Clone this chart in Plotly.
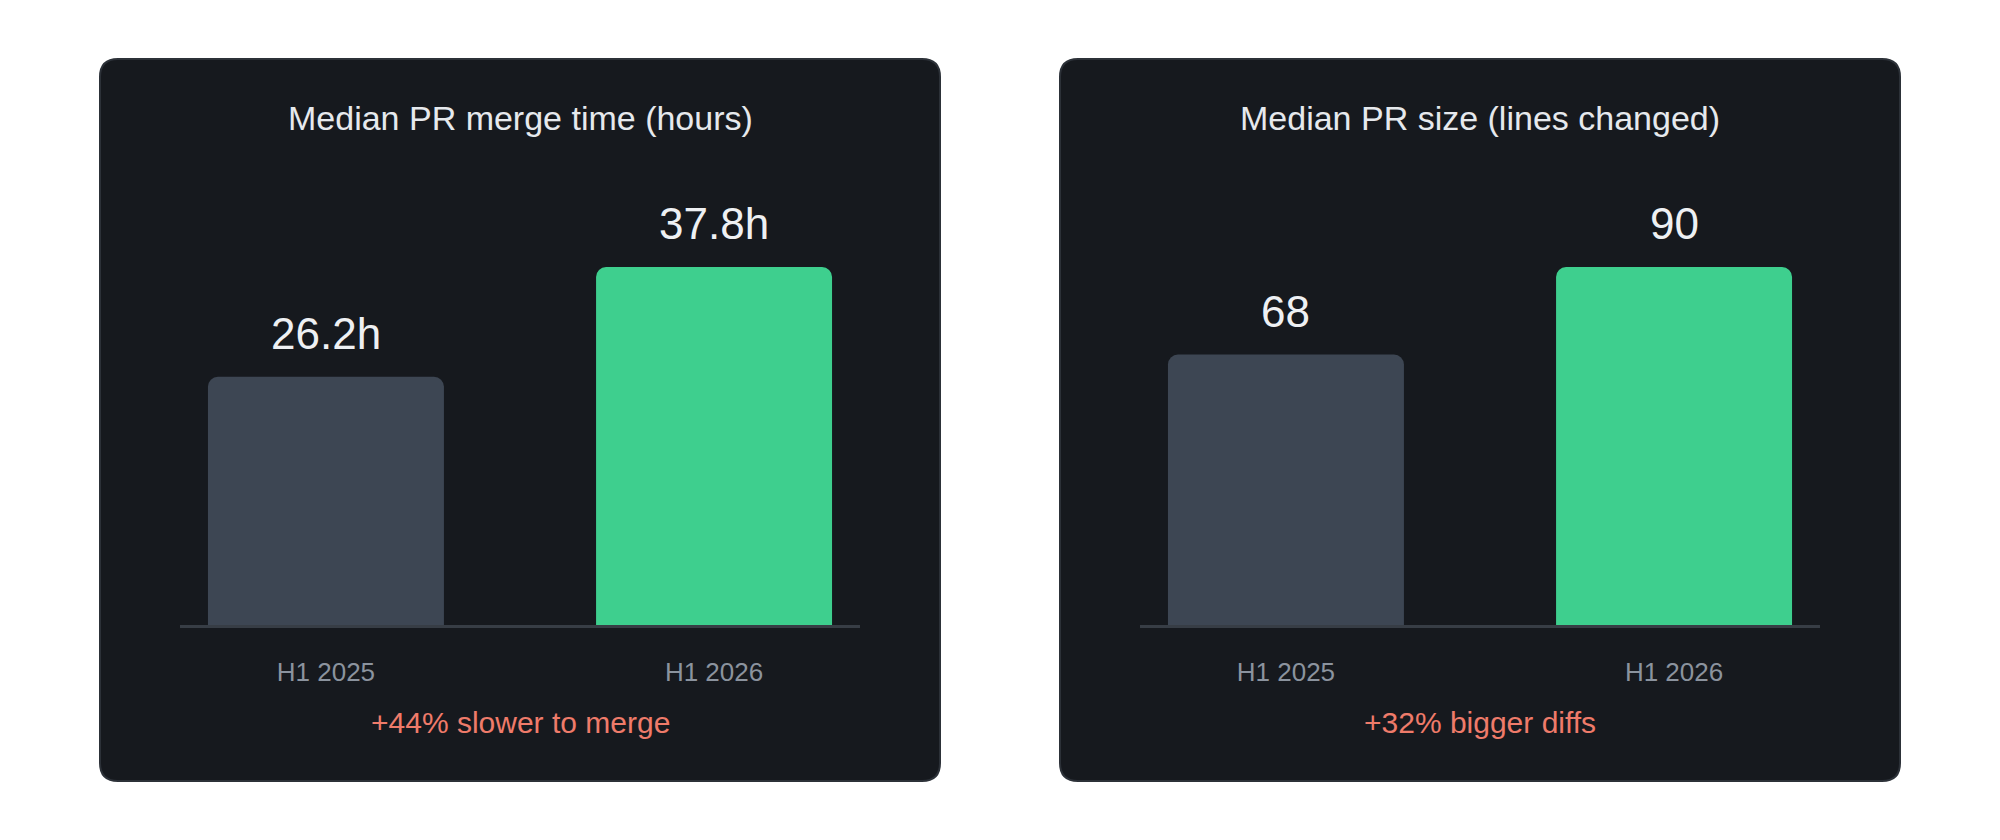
import plotly.graph_objects as go

# ---------------- data ----------------
categories = ["H1 2025", "H1 2026"]
merge_hours = [26.2, 37.8]
merge_labels = ["26.2h", "37.8h"]
pr_size = [68, 90]
pr_size_labels = ["68", "90"]
titles = ["Median PR merge time (hours)", "Median PR size (lines changed)"]
notes = ["+44% slower to merge", "+32% bigger diffs"]

# ---------------- style ----------------
W, H = 2000, 840
FONT = "Liberation Sans, Arial, Helvetica, sans-serif"
PANEL_BG = "#16191e"
PANEL_BORDER = "#2c3138"
BAR_COLORS = ["#3d4653", "#3ecf8e"]
TITLE_COLOR = "#e6e9ed"
VALUE_COLOR = "#eef0f3"
TICK_COLOR = "#8b939e"
NOTE_COLOR = "#ef7b6a"
AXIS_COLOR = "#373d45"

panels = [(100, 59, 940, 781), (1060, 59, 1900, 781)]  # x0, y0, x1, y1 (px)
axis_px = [(180, 860), (1140, 1820)]
base_px, top_px = 625, 200
bar_px_max = 358


def fx(px):
    return px / W


def fy(py):
    return 1 - py / H


def rounded_rect(x0, y0, x1, y1, r):
    pts = [
        f"M {fx(x0 + r)} {fy(y0)}",
        f"L {fx(x1 - r)} {fy(y0)}",
        f"Q {fx(x1)} {fy(y0)} {fx(x1)} {fy(y0 + r)}",
        f"L {fx(x1)} {fy(y1 - r)}",
        f"Q {fx(x1)} {fy(y1)} {fx(x1 - r)} {fy(y1)}",
        f"L {fx(x0 + r)} {fy(y1)}",
        f"Q {fx(x0)} {fy(y1)} {fx(x0)} {fy(y1 - r)}",
        f"L {fx(x0)} {fy(y0 + r)}",
        f"Q {fx(x0)} {fy(y0)} {fx(x0 + r)} {fy(y0)}",
        "Z",
    ]
    return " ".join(pts)


fig = go.Figure()

series = [(merge_hours, merge_labels), (pr_size, pr_size_labels)]
shapes = []
annotations = []
layout_axes = {}

for i, (vals, labs) in enumerate(series):
    xa = "x" if i == 0 else "x2"
    ya = "y" if i == 0 else "y2"
    fig.add_trace(go.Bar(
        x=categories, y=vals, xaxis=xa, yaxis=ya,
        marker=dict(color=BAR_COLORS, cornerradius=10, line=dict(width=0)),
        width=0.608, hoverinfo="skip", showlegend=False,
    ))
    for c, v, t in zip(categories, vals, labs):
        annotations.append(dict(
            x=c, y=v, xref=xa, yref=ya, text=t, showarrow=False,
            yanchor="bottom", yshift=17,
            font=dict(family=FONT, size=44, color=VALUE_COLOR),
        ))
    x0p, y0p, x1p, y1p = panels[i]
    cx = (x0p + x1p) / 2
    shapes.append(dict(
        type="path", xref="paper", yref="paper", layer="below",
        path=rounded_rect(x0p, y0p, x1p, y1p, 18),
        fillcolor=PANEL_BG, line=dict(color=PANEL_BORDER, width=2),
    ))
    annotations.append(dict(
        x=fx(cx), y=fy(118), xref="paper", yref="paper", text=titles[i],
        showarrow=False, xanchor="center", yanchor="middle",
        font=dict(family=FONT, size=34, color=TITLE_COLOR),
    ))
    annotations.append(dict(
        x=fx(cx), y=fy(722), xref="paper", yref="paper", text=notes[i],
        showarrow=False, xanchor="center", yanchor="middle",
        font=dict(family=FONT, size=30, color=NOTE_COLOR),
    ))
    ax0, ax1 = axis_px[i]
    key = "" if i == 0 else "2"
    layout_axes["xaxis" + key] = dict(
        domain=[fx(ax0), fx(ax1)], range=[-0.376, 1.376], anchor=ya,
        showgrid=False, zeroline=False, showline=True,
        linecolor=AXIS_COLOR, linewidth=3, ticks="",
        tickfont=dict(family=FONT, size=26, color=TICK_COLOR),
        ticklabelstandoff=22, fixedrange=True,
    )
    layout_axes["yaxis" + key] = dict(
        domain=[fy(base_px), fy(top_px)],
        range=[0, max(vals) * (base_px - top_px) / bar_px_max],
        anchor=xa, showgrid=False, zeroline=False, showline=False,
        showticklabels=False, ticks="", fixedrange=True,
    )

fig.update_layout(
    width=W, height=H,
    margin=dict(l=0, r=0, t=0, b=0),
    paper_bgcolor="white", plot_bgcolor="rgba(0,0,0,0)",
    shapes=shapes, annotations=annotations,
    showlegend=False, bargap=0.39,
    font=dict(family=FONT),
    **layout_axes,
)

fig.write_html("out.html", config={"displayModeBar": False})
